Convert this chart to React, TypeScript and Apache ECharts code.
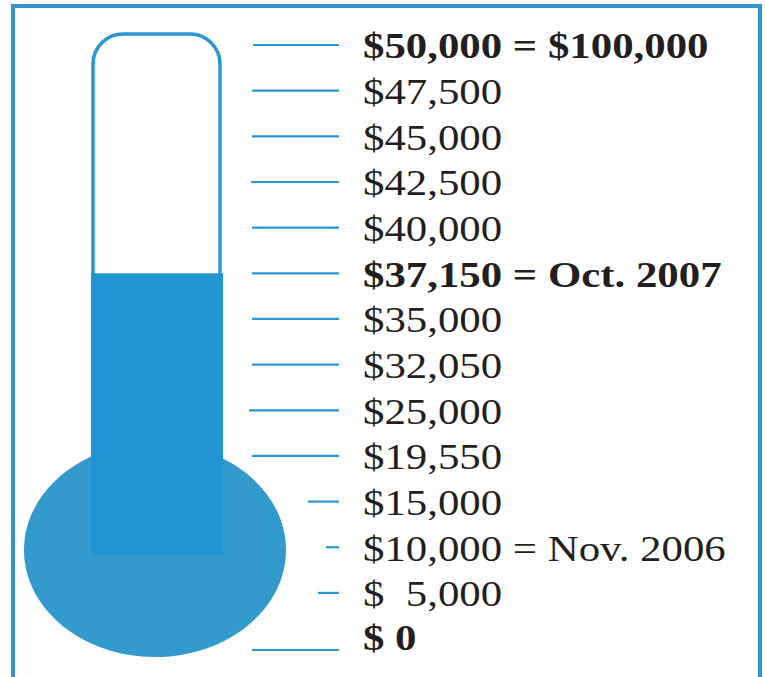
import React, { useEffect, useRef } from "react";
import * as echarts from "echarts";

// ---- data (bottom to top) ----
const tickAmounts = [0, 5000, 10000, 15000, 19550, 25000, 32050, 35000, 37150, 40000, 42500, 45000, 47500, 50000];
const tickLabels = [
  "$ 0",
  "$  5,000",
  "$10,000 = Nov. 2006",
  "$15,000",
  "$19,550",
  "$25,000",
  "$32,050",
  "$35,000",
  "$37,150 = Oct. 2007",
  "$40,000",
  "$42,500",
  "$45,000",
  "$47,500",
  "$50,000 = $100,000",
];
// position of each tick on the thermometer scale (slot units)
const tickSlots = [0, 1.25, 2.25, 3.25, 4.25, 5.25, 6.25, 7.25, 8.25, 9.25, 10.25, 11.25, 12.25, 13.25];
const boldAmounts = [0, 37150, 50000];
const raisedAmount = 37150;

// ---- styles ----
const tickLineLengths = [87, 21, 13, 31, 87, 90, 87, 87, 87, 87, 88, 87, 87, 86];
const labelOffsets = [-13, 0, 0, 0, 0, 0, 0, 0, 0, 0, 0, 0, 0, 0];
const FRAME = "#3399cc";
const TUBE = "#2997d4";
const FILL = "#2394d2";
const BULB = "#329acc";
const TEXT = "#231f20";
const FONT = '"Liberation Serif", "Times New Roman", serif';

export default function App() {
  const ref = useRef<HTMLDivElement>(null);
  useEffect(() => {
    if (!ref.current) return;
    const chart = echarts.init(ref.current, undefined, { renderer: "svg" });
    const raisedSlot = tickSlots[tickAmounts.indexOf(raisedAmount)];
    chart.setOption({
      animation: false,
      backgroundColor: "#ffffff",
      grid: { left: 0, right: 0, top: 45, bottom: 27 },
      xAxis: { type: "value", min: 0, max: 765, show: false },
      yAxis: { type: "value", min: 0, max: 13.25, show: false },
      graphic: [
        {
          type: "rect",
          z: 0,
          shape: { x: 13, y: 6, width: 747, height: 720 },
          style: { fill: "none", stroke: FRAME, lineWidth: 4 },
        },
        {
          type: "rect",
          z: 1,
          shape: { x: 93, y: 34, width: 127, height: 470, r: [30, 30, 0, 0] },
          style: { fill: "#ffffff", stroke: TUBE, lineWidth: 3.5 },
        },
        {
          type: "ellipse",
          z: 2,
          shape: { cx: 155, cy: 550, rx: 131, ry: 107 },
          style: { fill: BULB },
        },
      ],
      series: [
        {
          type: "custom",
          coordinateSystem: "cartesian2d",
          z: 5,
          clip: false,
          data: [[0, raisedSlot]],
          renderItem: (params: any, api: any) => {
            const top = api.coord([0, api.value(1)])[1];
            return {
              type: "rect",
              shape: { x: 91, y: top, width: 132, height: 555 - top },
              style: { fill: FILL },
            };
          },
        },
        {
          type: "custom",
          coordinateSystem: "cartesian2d",
          z: 6,
          clip: false,
          data: tickSlots.map((s, i) => [tickAmounts[i], s]),
          renderItem: (params: any, api: any) => {
            const i = params.dataIndex;
            const y = api.coord([0, api.value(1)])[1];
            const right = 339;
            const bold = boldAmounts.indexOf(tickAmounts[i]) >= 0;
            return {
              type: "group",
              children: [
                {
                  type: "line",
                  shape: { x1: right - tickLineLengths[i], y1: y, x2: right, y2: y },
                  style: { stroke: TUBE, lineWidth: 2.2 },
                },
                {
                  type: "text",
                  x: 363,
                  y: y + 1.5 + labelOffsets[i],
                  scaleX: 1.19,
                  style: {
                    text: tickLabels[i],
                    x: 0,
                    y: 0,
                    fill: TEXT,
                    fontSize: 36,
                    fontFamily: FONT,
                    fontWeight: bold ? "bold" : "normal",
                    align: "left",
                    verticalAlign: "middle",
                  },
                },
              ],
            };
          },
        },
      ],
    });
    return () => chart.dispose();
  }, []);
  return (
    <div
      ref={ref}
      style={{ position: "fixed", left: 0, top: 0, width: 765, height: 677 }}
    />
  );
}
